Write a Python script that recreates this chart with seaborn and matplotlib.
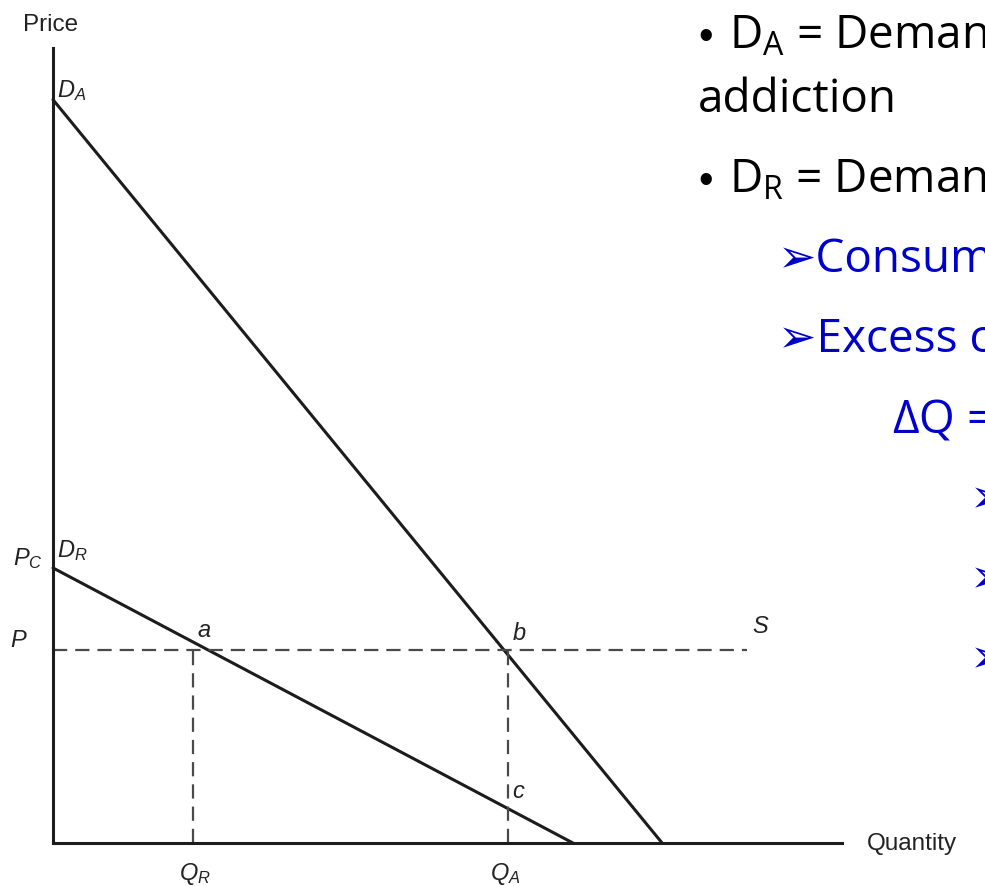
import seaborn as sns
import matplotlib.pyplot as plt

# demand curves (quantity / price units 0..100)
q_addict = [0, 77.2]
p_addict = [93.5, 0]
q_rational = [0, 65.9]
p_rational = [34.6, 0]

# market price (supply line) and the two quantities
price = 24.3
q_supply_end = 88.0
q_r = 17.7
q_a = 57.7

# slide text on the right (runs off the page in the original)
bullets = ["D$_\\mathrm{A}$ = Demand", "addiction", "D$_\\mathrm{R}$ = Demand"]
sub_points = ["➢Consumers", "➢Excess consumption"]
delta_line = "ΔQ = Q$_\\mathrm{A}$"
arrow = "➢"

sns.set_style("white")
plt.rcParams["font.family"] = ["Liberation Sans", "DejaVu Sans"]
plt.rcParams["mathtext.fontset"] = "custom"
plt.rcParams["mathtext.it"] = "Liberation Sans:italic"
plt.rcParams["mathtext.rm"] = "Open Sans"

W, H = 985, 886
fig = plt.figure(figsize=(W / 100, H / 100), dpi=100)
fig.patch.set_facecolor("white")
ax = fig.add_axes([53 / W, (H - 843) / H, 789 / W, 795 / H])
ax.set_xlim(0, 100)
ax.set_ylim(0, 100)
ax.set_facecolor("none")

dark = "#1c1c1c"
grey = "#4a4a4a"

# demand lines
sns.lineplot(x=q_addict, y=p_addict, color=dark, lw=2.2, ax=ax)
sns.lineplot(x=q_rational, y=p_rational, color=dark, lw=2.2, ax=ax)

# dashed price line and drop lines
sns.lineplot(x=[0, q_supply_end], y=[price, price], color=grey, lw=1.6, ax=ax)
sns.lineplot(x=[q_r, q_r], y=[0, price], color=grey, lw=1.6, ax=ax,
             estimator=None, sort=False)
sns.lineplot(x=[q_a, q_a], y=[0, price], color=grey, lw=1.6, ax=ax,
             estimator=None, sort=False)
for ln in ax.lines:
    ln.set_clip_on(False)
for ln in ax.lines[2:]:
    ln.set_dashes((6.4, 3.6))

for s in ["top", "right"]:
    ax.spines[s].set_visible(False)
for s in ["left", "bottom"]:
    ax.spines[s].set_color(dark)
    ax.spines[s].set_linewidth(2.2)
ax.set_xticks([])
ax.set_yticks([])

lab = dict(fontsize=17, va="baseline", color="#222222")
ax.text(0.5, 93.8, "$D_A$", ha="left", **lab)
ax.text(0.5, 36.0, "$D_R$", ha="left", **lab)
ax.text(-1.3, 35.0, "$P_C$", ha="right", **lab)
ax.text(-5.4, 24.65, "$P$", ha="left", **lab)
ax.text(18.25, 25.9, "$a$", ha="left", **lab)
ax.text(58.2, 25.5, "$b$", ha="left", **lab)
ax.text(58.2, 5.66, "$c$", ha="left", **lab)
ax.text(88.6, 26.4, "$S$", ha="left", **lab)
ax.text(q_r - 1.7, -4.65, "$Q_R$", ha="left", **lab)
ax.text(q_a - 2.3, -4.65, "$Q_A$", ha="left", **lab)
ax.text(103.2, -0.9, "Quantity", ha="left", fontsize=17.5, va="baseline", color="#222222")
fig.text(23 / W, 1 - 31 / H, "Price", ha="left", va="baseline", fontsize=17.5, color="#222222")


# right-hand slide text, positioned in pixels
def px(x, y):
    return x / W, 1 - y / H


fam = ["Open Sans", "DejaVu Sans"]
black = dict(fontsize=33, family=fam, va="baseline", color="black")
dot = dict(fontsize=30, family=["Liberation Sans"], va="baseline", color="black")
fig.text(*px(698, 49), "•", **dot)
fig.text(*px(729, 49), bullets[0], **black)
fig.text(*px(698, 112), bullets[1], **black)
fig.text(*px(698, 193), "•", **dot)
fig.text(*px(729, 193), bullets[2], **black)

blue = "#0000CC"
btxt = dict(fontsize=33, family=fam, va="baseline", color=blue)
fig.text(*px(778, 272), sub_points[0], **btxt)
fig.text(*px(778, 352), sub_points[1], **btxt)
fig.text(*px(892, 432), delta_line, **btxt)
for i in range(3):
    fig.text(*px(970, 512 + 80 * i), arrow, **btxt)

fig.savefig("out.png", dpi=100)
